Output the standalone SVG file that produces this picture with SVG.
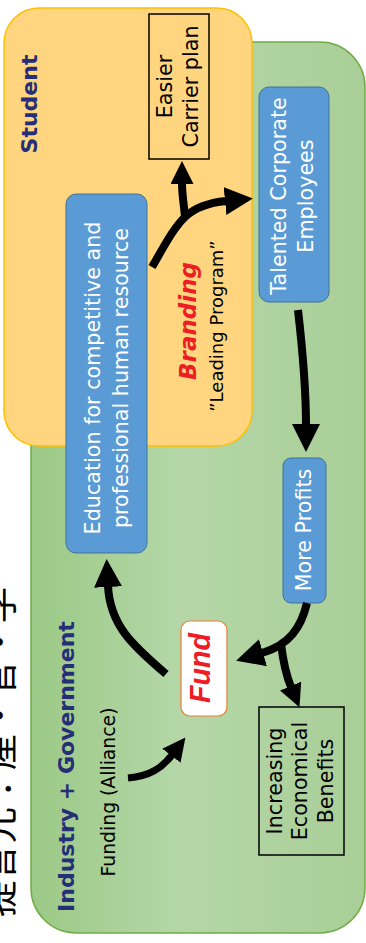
<svg xmlns="http://www.w3.org/2000/svg" width="366" height="943" viewBox="0 0 366 943">
  <defs>
    <linearGradient id="greenFill" x1="0" y1="0" x2="1" y2="0">
      <stop offset="0" stop-color="#9BC986"/>
      <stop offset="0.45" stop-color="#B5D7A8"/>
      <stop offset="1" stop-color="#A9CE97"/>
    </linearGradient>
    <marker id="head" markerUnits="userSpaceOnUse" viewBox="0 0 28 28" refX="1" refY="14" markerWidth="28" markerHeight="28" orient="auto">
      <path d="M0,0 L28,14 L0,28 Z" fill="#000"/>
    </marker>
    <marker id="head-sm" markerUnits="userSpaceOnUse" viewBox="0 0 23 23" refX="1" refY="11.5" markerWidth="23" markerHeight="23" orient="auto">
      <path d="M0,0 L23,11.5 L0,23 Z" fill="#000"/>
    </marker>
  </defs>
  <style>
    .lbl{font-family:"DejaVu Sans",sans-serif;font-size:20.7px;text-anchor:middle;fill:#000}
    .white{fill:#fff}
    .title{font-family:"DejaVu Sans",sans-serif;font-weight:bold;font-size:22px;fill:#262E78;text-anchor:middle}
    .blue{fill:#5B9BD5;stroke:#41719C;stroke-width:1}
    .frame{fill:none;stroke:#000;stroke-width:1.5}
    .arrow{fill:none;stroke:#000;stroke-width:8}
    .red{fill:#EE1C25;font-weight:bold;font-style:italic;text-anchor:middle}
  </style>

  <!-- source note at the left edge -->
  <g id="source-note">
    <text transform="translate(12.5,752) rotate(-90)" font-family="'Noto Sans CJK JP',sans-serif" font-size="36.7" text-anchor="middle" fill="#000">提言元：産・官・学</text>
  </g>

  <!-- industry + government region -->
  <g id="industry-government">
    <rect x="31" y="42" width="334" height="891" rx="45" fill="url(#greenFill)" stroke="#70AD47" stroke-width="1.5"/>
    <text class="title" transform="translate(74,766.5) rotate(-90)">Industry + Government</text>
  </g>

  <!-- student region -->
  <g id="student">
    <rect x="4" y="8" width="248" height="438" rx="35" fill="#FFD57F" stroke="#FFC000" stroke-width="1.5"/>
    <text class="title" transform="translate(36.5,104) rotate(-90)">Student</text>
  </g>

  <g id="easier-carrier-plan">
    <rect class="frame" x="149" y="14" width="60" height="145"/>
    <text class="lbl" transform="translate(171.5,86.5) rotate(-90)"><tspan x="0" y="0">Easier</tspan><tspan x="0" y="26.5">Carrier plan</tspan></text>
  </g>

  <g id="talented-employees">
    <rect class="blue" x="259" y="87" width="70" height="215" rx="10"/>
    <text class="lbl white" transform="translate(286,196) rotate(-90)"><tspan x="0" y="0">Talented Corporate</tspan><tspan x="0" y="27">Employees</tspan></text>
  </g>

  <g id="education">
    <rect class="blue" x="66" y="194" width="81" height="359" rx="10"/>
    <text class="lbl white" transform="translate(100,378) rotate(-90)"><tspan x="0" y="0">Education for competitive and</tspan><tspan x="0" y="28">professional human resource</tspan></text>
  </g>

  <g id="more-profits">
    <rect class="blue" x="283" y="458" width="43" height="145" rx="8"/>
    <text class="lbl white" transform="translate(311,530) rotate(-90)">More Profits</text>
  </g>

  <g id="fund">
    <rect x="181" y="621" width="46" height="95" rx="9" fill="#fff" stroke="#ED7D31" stroke-width="1.2"/>
    <text class="red" transform="translate(210,668) rotate(-90)" font-family="'Liberation Sans',sans-serif" font-size="28.6">Fund</text>
  </g>

  <g id="economic-benefits">
    <rect class="frame" x="259" y="707" width="85" height="148"/>
    <text class="lbl" transform="translate(281.5,781) rotate(-90)"><tspan x="0" y="0">Increasing</tspan><tspan x="0" y="25.5">Economical</tspan><tspan x="0" y="51">Benefits</tspan></text>
  </g>

  <g id="branding">
    <text class="red" transform="translate(196,321) rotate(-90)" font-family="'DejaVu Sans',sans-serif" font-size="23">Branding</text>
    <text transform="translate(223,326) rotate(-90)" font-family="'DejaVu Sans',sans-serif" font-size="18" text-anchor="middle" fill="#000">”Leading Program”</text>
  </g>

  <g id="funding-alliance">
    <text transform="translate(115,792) rotate(-90)" font-family="'DejaVu Sans',sans-serif" font-size="18.8" text-anchor="middle" fill="#000">Funding (Alliance)</text>
  </g>

  <!-- connectors -->
  <g id="connectors">
    <path class="arrow" d="M152,267 C178,222 185,205 226,201" marker-end="url(#head)"/>
    <path class="arrow" d="M185,217 C184,205 182,195 182,183" marker-end="url(#head-sm)"/>
    <path class="arrow" d="M298,310 C302,345 306,385 306,425" marker-end="url(#head)"/>
    <path class="arrow" d="M307,603 C301,628 289,645 262,653" marker-end="url(#head)"/>
    <path class="arrow" d="M281,644 C283,660 286,675 291,687" marker-end="url(#head-sm)"/>
    <path class="arrow" d="M166,674 C132,645 110,625 108,586" marker-end="url(#head)"/>
    <path class="arrow" style="stroke-width:7" d="M128,778 C150,776 162,768 172,755" marker-end="url(#head-sm)"/>
  </g>
</svg>
